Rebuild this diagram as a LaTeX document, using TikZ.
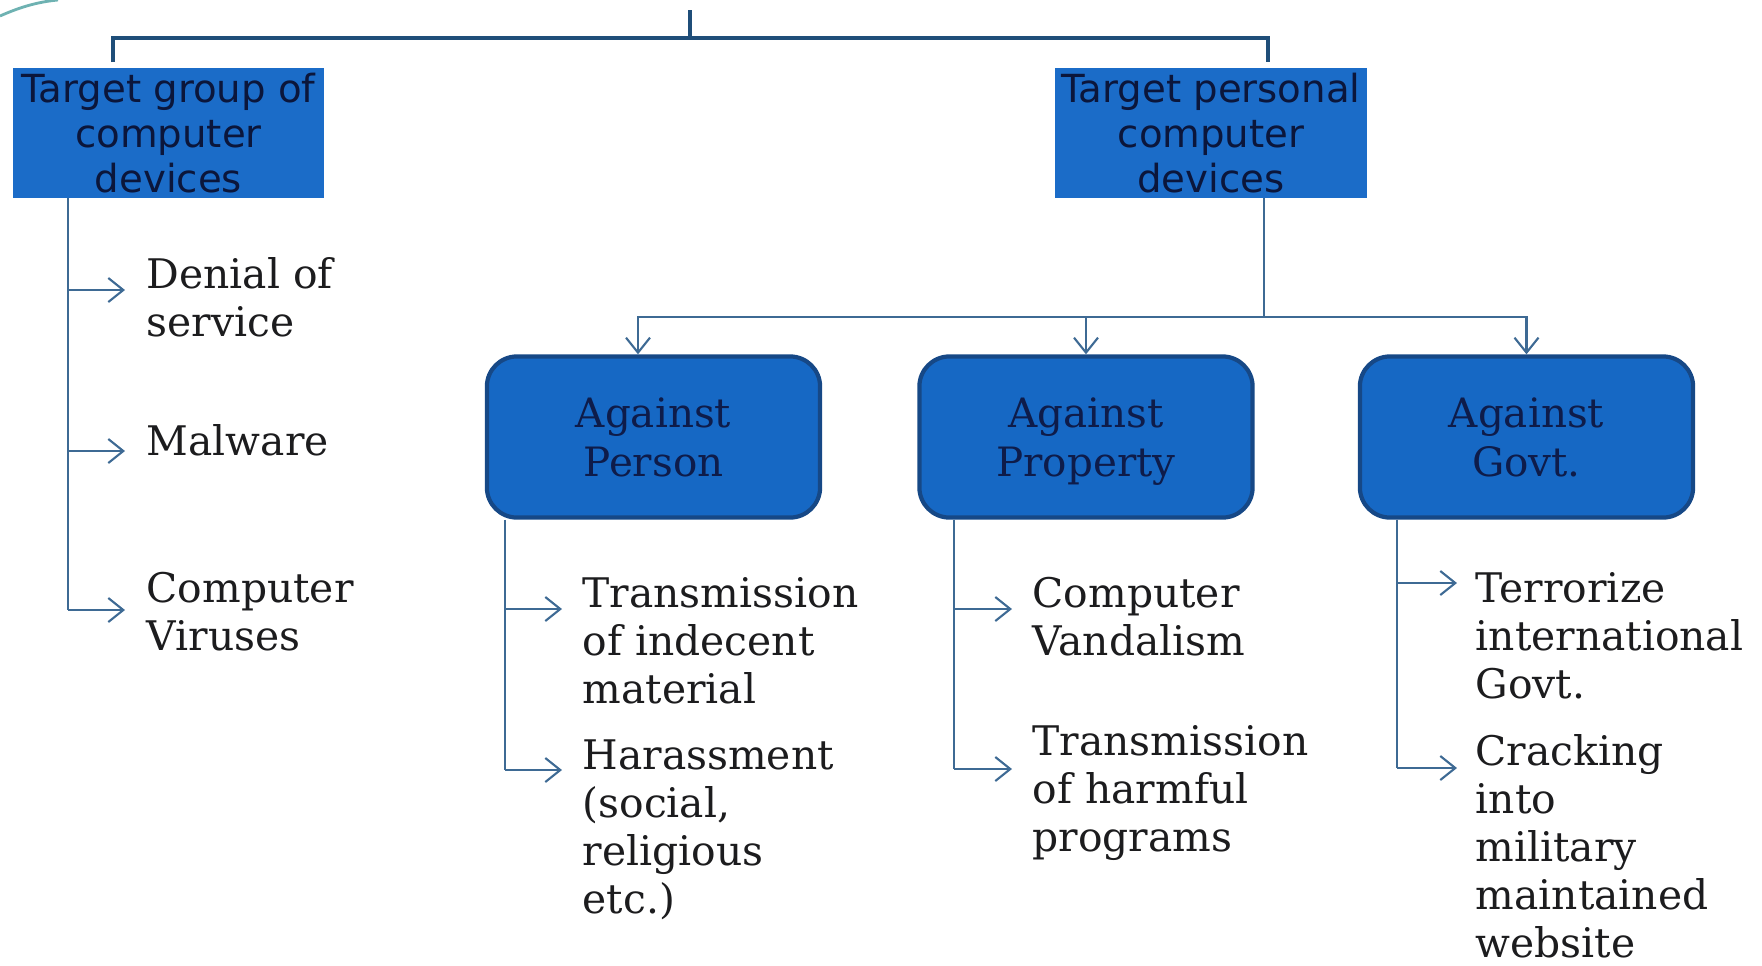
\documentclass[tikz,border=0pt]{standalone}
\usepackage{fontspec}
\setmainfont{DejaVu Serif}
\newfontfamily\boxsans{DejaVu Sans}
\usetikzlibrary{arrows.meta}
\definecolor{tgtblue}{RGB}{27,108,200}
\definecolor{clsblue}{RGB}{22,104,196}
\definecolor{clsedge}{RGB}{22,72,134}
\definecolor{busblue}{RGB}{31,78,121}
\definecolor{lnkblue}{RGB}{62,106,148}
\definecolor{navy}{RGB}{14,28,74}
\definecolor{ink}{RGB}{28,28,30}
\definecolor{swoosh}{RGB}{110,178,178}
\tikzset{
  tgt/.style={rectangle,fill=tgtblue,minimum width=3.11cm,minimum height=1.3cm,inner sep=0pt,
    align=center,font=\boxsans\fontsize{11}{12.8}\selectfont,text=navy!80!black},
  cls/.style={rectangle,rounded corners=.3cm,draw=clsedge,line width=1.2pt,fill=clsblue,
    minimum width=3.33cm,minimum height=1.61cm,inner sep=0pt,align=center,text depth=0pt,
    font=\fontsize{11.5}{13.9}\selectfont,text=navy},
  bus/.style={draw=busblue,line width=1.3pt},
  lnk/.style={draw=lnkblue,line width=.6pt},
  msg/.style={-{Straight Barb[length=1.5mm,width=2.4mm]},draw=lnkblue,line width=.6pt},
  % base west of a multi-line label sits on its last line
  lb/.style={anchor=base west,align=left,inner sep=0pt,text=ink,
    font=\fontsize{11.6}{13.6}\selectfont},
}

\begin{document}
\begin{tikzpicture}[x=0.01cm,y=-0.01cm]
\useasboundingbox (0,0) rectangle (1762,966);
\draw[swoosh,line width=.8pt] (0,16) .. controls (18,8) and (36,2) .. (58,0);
% ---- the two target groups under one bracket
\node[tgt] (grp) at (168.5,133) {Target group of\\computer\\devices};
\node[tgt] (pers) at (1211,133) {Target personal\\computer\\devices};
\coordinate (top) at (690,10); \coordinate (bus) at (690,38);
\coordinate (gl) at (113,62); \coordinate (gr) at (1268,62);
\draw[bus] (top) -- (bus);
\draw[bus] (gl) |- (bus) -| (gr);
% ---- group of devices
\coordinate (g0) at (68,198); \coordinate (g1) at (68,610);
\draw[lnk] (g0) -- (g1);
\coordinate (ga) at (125,290); \coordinate (gb) at (125,451); \coordinate (gc) at (125,610);
\draw[msg] (g0 |- ga) -- (ga);
\draw[msg] (g0 |- gb) -- (gb);
\draw[msg] (g1) -- (gc);
\node[lb] (dos) at (146,336) {Denial of\\service};
\node[lb] (mal) at (146,455) {Malware};
\node[lb] (vir) at (146,650) {Computer\\Viruses};
% ---- personal devices split three ways
\node[cls] (psn) at (653.5,437) {Against\\Person};
\node[cls] (prp) at (1086,437) {Against\\Property};
\node[cls] (gov) at (1526.5,437) {Against\\Govt.};
\coordinate (p0) at (1264,198); \coordinate (p1) at (1264,317);
\draw[lnk] (p0) -- (p1);
\draw[msg] (p1) -| (psn.north -| 638,0);
\draw[msg] (p1) -| (prp.north);
\draw[msg] (p1) -| (gov.north);
% ---- against person
\coordinate (s0) at (505,518); \coordinate (s1) at (505,770);
\coordinate (sa) at (562,609); \coordinate (sb) at (562,770);
\draw[lnk] (psn.south -| s0) -- (s1);
\draw[msg] (s0 |- sa) -- (sa);
\draw[msg] (s1) -- (sb);
\node[lb] (ind) at (582,703) {Transmission\\of indecent\\material};
\node[lb] (har) at (582,913) {Harassment\\(social,\\religious\\etc.)};
% ---- against property
\coordinate (r0) at (954,518); \coordinate (r1) at (954,769);
\coordinate (ra) at (1012,609); \coordinate (rb) at (1012,769);
\draw[lnk] (prp.south -| r0) -- (r1);
\draw[msg] (r0 |- ra) -- (ra);
\draw[msg] (r1) -- (rb);
\node[lb] (van) at (1032,655) {Computer\\Vandalism};
\node[lb] (hrm) at (1032,851) {Transmission\\of harmful\\programs};
% ---- against government
\coordinate (v0) at (1397,518); \coordinate (v1) at (1397,768);
\coordinate (va) at (1457,583); \coordinate (vb) at (1457,768);
\draw[lnk] (gov.south -| v0) -- (v1);
\draw[msg] (v0 |- va) -- (va);
\draw[msg] (v1) -- (vb);
\node[lb] (ter) at (1475,698) {Terrorize\\international\\Govt.};
\node[lb] (crk) at (1475,957) {Cracking\\into\\military\\maintained\\website};
\end{tikzpicture}
\end{document}
